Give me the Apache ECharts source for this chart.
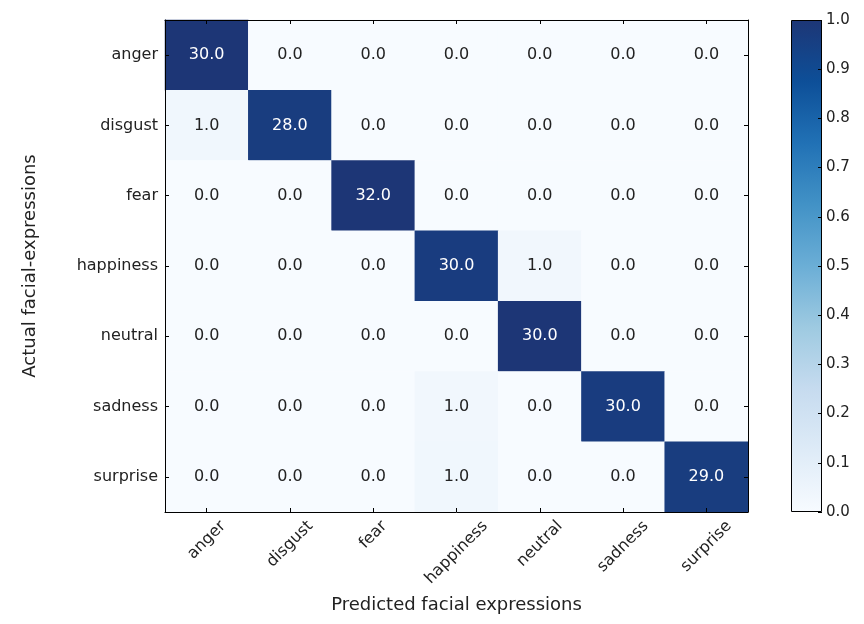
<!DOCTYPE html>
<html>
<head>
<meta charset="utf-8">
<script src="https://cdn.jsdelivr.net/npm/echarts@6/dist/echarts.min.js"></script>
<style>
  html, body { margin: 0; padding: 0; background: #fff; }
  #chart { width: 864px; height: 624px; }
</style>
</head>
<body>
<div id="chart"></div>
<script>
// Class names, shared by both axes of the confusion matrix
const categories = ['anger', 'disgust', 'fear', 'happiness', 'neutral', 'sadness', 'surprise'];

// Rows: actual class, columns: predicted class (counts)
const counts = [
  [30, 0, 0, 0, 0, 0, 0],
  [1, 28, 0, 0, 0, 0, 0],
  [0, 0, 32, 0, 0, 0, 0],
  [0, 0, 0, 30, 1, 0, 0],
  [0, 0, 0, 0, 30, 0, 0],
  [0, 0, 0, 1, 0, 30, 0],
  [0, 0, 0, 1, 0, 0, 29]
];

// Colour bar scale
const colorbarMin = 0;
const colorbarMax = 1;
const colorbarStep = 0.1;

// "Blues" colour ramp
const blues = ['#f7fbff', '#deebf7', '#c6dbef', '#9ecae1', '#6baed6', '#4292c6', '#2171b5', '#0d4f98', '#1d3676'];

const FONT = 'DejaVu Sans';
const TICK_FS = 16;
const CELL_FS = 16;
const TITLE_FS = 18;
const textColor = '#222';

// Row-normalised values drive the colour; the label shows the raw count
const cells = [];
counts.forEach((row, i) => {
  const total = row.reduce((a, b) => a + b, 0);
  row.forEach((c, j) => {
    const n = c / total;
    cells.push({
      value: [j, i, c, n],
      label: { color: n > 0.5 ? '#ffffff' : textColor }
    });
  });
});

// Rotated x labels are centred below their tick. Each label is a rich text
// block: an empty first line pushes the word down and a trailing spacer pushes
// it left (in the text's own frame), which together move it straight down by
// half of its rotated bounding box.
const ctx = document.createElement('canvas').getContext('2d');
ctx.font = TICK_FS + 'px "' + FONT + '"';
const xRich = { t: { fontSize: TICK_FS, fontFamily: FONT, color: textColor, lineHeight: TICK_FS + 2 } };
categories.forEach((name, k) => {
  const w = ctx.measureText(name).width;
  const p = (w + TICK_FS) / 2;
  xRich['g' + k] = { height: p, lineHeight: p, fontSize: 1, width: 1 };
  xRich['s' + k] = { width: p, fontSize: 1 };
});

const gradientStops = blues.map((c, k) => ({ offset: k / (blues.length - 1), color: c }));

const chart = echarts.init(document.getElementById('chart'), null, { renderer: 'canvas' });

const frameAxisLine = { show: true, lineStyle: { color: '#000', width: 1 } };
const innerTick = { show: true, inside: true, length: 4, alignWithLabel: true, lineStyle: { color: '#000' } };

chart.setOption({
  backgroundColor: '#ffffff',
  animation: false,
  textStyle: { fontFamily: FONT },
  grid: [
    { left: 165, top: 20, width: 583, height: 492 },
    { left: 791, top: 20, width: 31, height: 492 }
  ],
  xAxis: [
    {
      type: 'category', gridIndex: 0, data: categories, position: 'bottom', z: 5,
      axisLine: frameAxisLine, axisTick: innerTick,
      axisLabel: {
        interval: 0, rotate: 45, align: 'center', verticalAlign: 'middle', margin: 6,
        fontSize: TICK_FS, color: textColor, fontFamily: FONT,
        formatter: (v, k) => '{g' + k + '| }\n{t|' + v + '}{s' + k + '| }',
        rich: xRich
      },
      splitLine: { show: false },
      name: 'Predicted facial expressions', nameLocation: 'middle', nameGap: 84,
      nameTextStyle: { fontSize: TITLE_FS, color: textColor, fontFamily: FONT }
    },
    {
      type: 'category', gridIndex: 0, data: categories, position: 'top', z: 5,
      axisLine: frameAxisLine, axisTick: innerTick, axisLabel: { show: false }
    },
    {
      type: 'category', gridIndex: 1, data: [''], position: 'bottom',
      axisLine: { show: false }, axisTick: { show: false }, axisLabel: { show: false }
    }
  ],
  yAxis: [
    {
      type: 'category', gridIndex: 0, data: categories, inverse: true, position: 'left', z: 5,
      axisLine: frameAxisLine, axisTick: innerTick,
      axisLabel: { interval: 0, margin: 7, fontSize: TICK_FS, color: textColor, fontFamily: FONT },
      name: 'Actual facial-expressions', nameLocation: 'middle', nameGap: 126, nameRotate: 90,
      nameTextStyle: { fontSize: TITLE_FS, color: textColor, fontFamily: FONT }
    },
    {
      type: 'category', gridIndex: 0, data: categories, inverse: true, position: 'right', z: 5,
      axisLine: frameAxisLine, axisTick: innerTick, axisLabel: { show: false }
    },
    {
      type: 'value', gridIndex: 1, position: 'right', z: 5,
      min: colorbarMin, max: colorbarMax, interval: colorbarStep,
      axisLine: { show: false },
      axisTick: { show: true, inside: true, length: 4, lineStyle: { color: '#000' } },
      axisLabel: {
        margin: 4, fontSize: 15, color: textColor, fontFamily: FONT,
        formatter: v => v.toFixed(1)
      },
      splitLine: { show: false }
    }
  ],
  visualMap: {
    type: 'continuous', show: false, seriesIndex: 0, dimension: 3,
    min: colorbarMin, max: colorbarMax,
    inRange: { color: blues }
  },
  series: [
    {
      type: 'heatmap', xAxisIndex: 0, yAxisIndex: 0, data: cells, z: 1,
      label: {
        show: true, fontSize: CELL_FS, fontFamily: FONT,
        formatter: p => p.value[2].toFixed(1)
      },
      itemStyle: { borderWidth: 0 },
      emphasis: { disabled: true }
    },
    {
      type: 'bar', xAxisIndex: 2, yAxisIndex: 2, barWidth: '100%',
      data: [colorbarMax], silent: true, z: 1,
      itemStyle: {
        color: { type: 'linear', x: 0, y: 1, x2: 0, y2: 0, colorStops: gradientStops },
        borderColor: '#000', borderWidth: 1
      }
    }
  ]
});
</script>
</body>
</html>
